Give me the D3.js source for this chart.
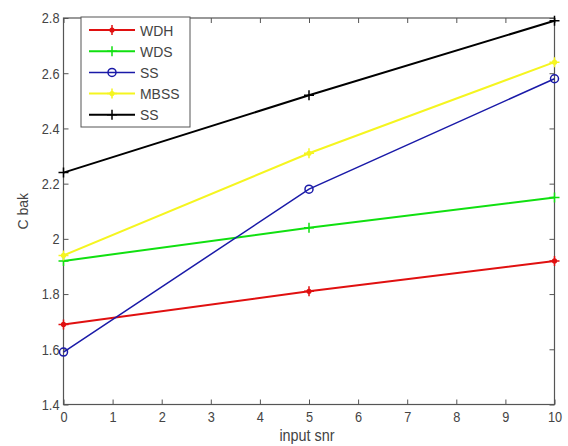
<!DOCTYPE html>
<html>
<head>
<meta charset="UTF-8" />
<title>C bak vs input snr</title>
<script src="https://cdn.jsdelivr.net/npm/d3@7"></script>
<style>
  body { margin: 0; background: #fff; }
  text { font-family: "Liberation Sans", Arial, sans-serif; }
</style>
</head>
<body>
<svg id="vis" width="568" height="446"></svg>
<script>
// data
var snr = [0, 5, 10];
var wdh = [1.69, 1.81, 1.92];
var wds = [1.92, 2.04, 2.15];
var ss = [1.59, 2.18, 2.58];
var mbss = [1.94, 2.31, 2.64];
var ss2 = [2.24, 2.52, 2.79];
var xTicks = [0, 1, 2, 3, 4, 5, 6, 7, 8, 9, 10];
var yTicks = [1.4, 1.6, 1.8, 2, 2.2, 2.4, 2.6, 2.8];

var series = [
  { name: "WDH", values: wdh, color: "#e01010", marker: "star", width: 2 },
  { name: "WDS", values: wds, color: "#10e010", marker: "plus", width: 2 },
  { name: "SS", values: ss, color: "#1a1aa8", marker: "circle", width: 1.5 },
  { name: "MBSS", values: mbss, color: "#f5f520", marker: "star", width: 2 },
  { name: "SS", values: ss2, color: "#000000", marker: "plus", width: 2 }
];

var pLeft = 63.5, pRight = 554.5, pTop = 18, pBottom = 404.5;
var svg = d3.select("#vis");

var x = d3.scaleLinear().domain([0, 10]).range([pLeft, pRight]);
var y = d3.scaleLinear().domain([1.4, 2.8]).range([pBottom, pTop]);

var axisColor = "#555";
var textColor = "#444";

// narrow, tall glyphs like the original export
function squeeze(sel, sx) {
  sel.each(function() {
    var t = d3.select(this);
    var tx = +t.attr("x") || 0, ty = +t.attr("y") || 0;
    t.attr("x", 0).attr("y", 0)
      .attr("transform", "translate(" + tx + "," + ty + ") scale(" + sx + ",1)");
  });
}

function styleAxis(g) {
  g.select(".domain").remove();
  g.selectAll("line").attr("stroke", axisColor);
  g.selectAll("text").attr("fill", textColor).style("font-size", "15px");
  squeeze(g.selectAll("text"), 0.85);
}

svg.append("g")
  .attr("transform", "translate(0," + pBottom + ")")
  .call(d3.axisBottom(x).tickValues(xTicks).tickSize(-5).tickPadding(7).tickFormat(d3.format("d")))
  .call(styleAxis);
svg.append("g")
  .attr("transform", "translate(0," + pTop + ")")
  .call(d3.axisTop(x).tickValues(xTicks).tickSize(-5).tickFormat(""))
  .call(styleAxis);
svg.append("g")
  .attr("transform", "translate(" + pLeft + ",0)")
  .call(d3.axisLeft(y).tickValues(yTicks).tickSize(-5).tickPadding(4).tickFormat(function(d) { return String(+d.toFixed(1)); }))
  .call(styleAxis);
svg.append("g")
  .attr("transform", "translate(" + pRight + ",0)")
  .call(d3.axisRight(y).tickValues(yTicks).tickSize(-5).tickFormat(""))
  .call(styleAxis);

svg.append("rect")
  .attr("x", pLeft).attr("y", pTop)
  .attr("width", pRight - pLeft).attr("height", pBottom - pTop)
  .attr("fill", "none").attr("stroke", axisColor).attr("stroke-width", 1.2);

// axis labels
svg.append("text")
  .attr("x", 307).attr("y", 441)
  .attr("text-anchor", "middle")
  .style("font-size", "16px").attr("fill", textColor)
  .text("input snr")
  .call(squeeze, 0.9);
svg.append("text")
  .attr("transform", "translate(28," + ((pTop + pBottom) / 2) + ") rotate(-90)")
  .attr("text-anchor", "middle")
  .style("font-size", "14px").attr("fill", textColor)
  .text("C bak");

// markers
function drawMarker(g, type, cx, cy, color) {
  if (type === "circle") {
    g.append("circle").attr("cx", cx).attr("cy", cy).attr("r", 4)
      .attr("fill", "none").attr("stroke", color).attr("stroke-width", 1.5);
  } else if (type === "plus") {
    g.append("path")
      .attr("d", "M" + (cx - 5) + "," + cy + "H" + (cx + 5) + "M" + cx + "," + (cy - 5) + "V" + (cy + 5))
      .attr("stroke", color).attr("stroke-width", 1.5);
  } else {
    g.append("path")
      .attr("d", "M" + (cx - 5) + "," + cy + "H" + (cx + 5) + "M" + cx + "," + (cy - 5) + "V" + (cy + 5))
      .attr("stroke", color).attr("stroke-width", 1.5);
    g.append("circle").attr("cx", cx).attr("cy", cy).attr("r", 2.6).attr("fill", color);
  }
}

var line = d3.line()
  .x(function(d, i) { return x(snr[i]); })
  .y(function(d) { return y(d); });

var gLines = svg.append("g");
series.forEach(function(s) {
  gLines.append("path")
    .attr("d", line(s.values))
    .attr("fill", "none")
    .attr("stroke", s.color)
    .attr("stroke-width", s.width);
  s.values.forEach(function(v, i) {
    drawMarker(gLines, s.marker, x(snr[i]), y(v), s.color);
  });
});

// legend
var legend = svg.append("g");
legend.append("rect")
  .attr("x", 81).attr("y", 17).attr("width", 109).attr("height", 110)
  .attr("fill", "#fff").attr("stroke", axisColor).attr("stroke-width", 1);
series.forEach(function(s, i) {
  var ly = 30 + i * 21.2;
  legend.append("line")
    .attr("x1", 89).attr("x2", 135).attr("y1", ly).attr("y2", ly)
    .attr("stroke", s.color).attr("stroke-width", s.width);
  drawMarker(legend, s.marker, 112, ly, s.color);
  legend.append("text")
    .attr("x", 140).attr("y", ly + 5.5)
    .style("font-size", "15px").attr("fill", textColor)
    .text(s.name)
    .call(squeeze, 0.93);
});
</script>
</body>
</html>
